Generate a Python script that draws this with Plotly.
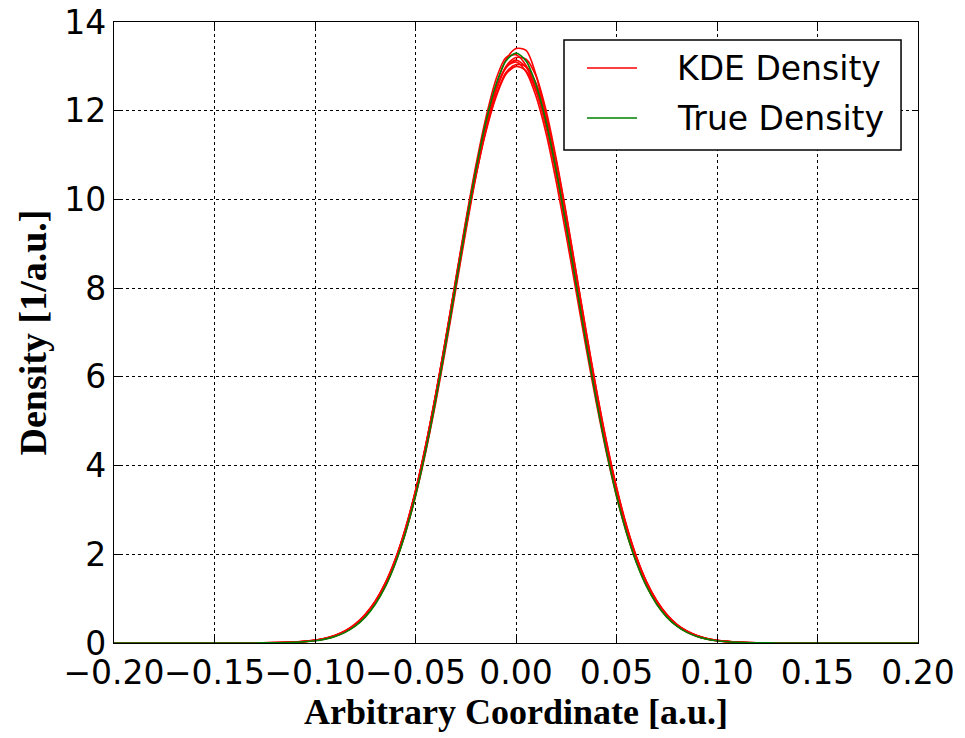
import plotly.graph_objects as go

# ---- data ----
x_grid = [-0.20, -0.15, -0.13, -0.12, -0.11, -0.10, -0.095, -0.09, -0.085, -0.08,
          -0.075, -0.07, -0.065, -0.06, -0.055, -0.05, -0.045, -0.04, -0.035, -0.03,
          -0.025, -0.02, -0.015, -0.01, -0.005, 0.0, 0.005, 0.01, 0.015, 0.02,
          0.025, 0.03, 0.035, 0.04, 0.045, 0.05, 0.055, 0.06, 0.065, 0.07,
          0.075, 0.08, 0.085, 0.09, 0.095, 0.10, 0.11, 0.12, 0.13, 0.15, 0.20]

true_density = [0, 0, 0.001, 0.005, 0.016, 0.051, 0.088, 0.148, 0.240, 0.380,
                0.584, 0.874, 1.27, 1.80, 2.48, 3.32, 4.32, 5.47, 6.73, 8.07,
                9.40, 10.65, 11.74, 12.58, 13.12, 13.30, 13.12, 12.58, 11.74, 10.65,
                9.40, 8.07, 6.73, 5.47, 4.32, 3.32, 2.48, 1.80, 1.27, 0.874,
                0.584, 0.380, 0.240, 0.148, 0.088, 0.051, 0.016, 0.005, 0.001, 0, 0]

kde_1 = [0, 0.001, 0.003, 0.007, 0.02, 0.058, 0.097, 0.16, 0.255, 0.40,
         0.61, 0.90, 1.30, 1.83, 2.50, 3.33, 4.32, 5.45, 6.70, 8.02,
         9.33, 10.58, 11.68, 12.55, 13.15, 13.40, 13.36, 12.80, 11.85, 10.70,
         9.42, 8.08, 6.74, 5.49, 4.36, 3.37, 2.53, 1.85, 1.31, 0.90,
         0.60, 0.39, 0.25, 0.155, 0.093, 0.054, 0.018, 0.006, 0.002, 0, 0]
kde_2 = [0, 0.001, 0.004, 0.009, 0.024, 0.066, 0.108, 0.175, 0.275, 0.43,
         0.65, 0.95, 1.36, 1.90, 2.59, 3.44, 4.44, 5.58, 6.82, 8.10,
         9.36, 10.52, 11.52, 12.30, 12.82, 13.00, 12.90, 12.44, 11.66, 10.62,
         9.42, 8.14, 6.86, 5.62, 4.48, 3.47, 2.62, 1.92, 1.37, 0.95,
         0.64, 0.42, 0.27, 0.17, 0.10, 0.062, 0.021, 0.007, 0.002, 0, 0]
kde_3 = [0, 0.001, 0.003, 0.008, 0.022, 0.062, 0.102, 0.168, 0.268, 0.42,
         0.64, 0.94, 1.35, 1.89, 2.58, 3.43, 4.44, 5.60, 6.86, 8.18,
         9.48, 10.68, 11.70, 12.48, 12.98, 13.10, 12.88, 12.32, 11.48, 10.40,
         9.18, 7.90, 6.62, 5.40, 4.29, 3.31, 2.48, 1.81, 1.28, 0.88,
         0.59, 0.385, 0.245, 0.152, 0.091, 0.053, 0.017, 0.005, 0.001, 0, 0]
kde_4 = [0, 0, 0.002, 0.006, 0.018, 0.055, 0.093, 0.155, 0.25, 0.39,
         0.595, 0.885, 1.28, 1.81, 2.48, 3.31, 4.29, 5.41, 6.65, 7.96,
         9.27, 10.50, 11.58, 12.44, 13.00, 13.20, 13.16, 12.78, 12.00, 10.92,
         9.68, 8.34, 7.00, 5.72, 4.55, 3.52, 2.65, 1.94, 1.38, 0.96,
         0.645, 0.42, 0.27, 0.168, 0.10, 0.06, 0.02, 0.006, 0.002, 0, 0]
kde_5 = [0, 0.001, 0.003, 0.008, 0.022, 0.063, 0.104, 0.17, 0.27, 0.42,
         0.635, 0.93, 1.34, 1.88, 2.57, 3.42, 4.43, 5.58, 6.84, 8.16,
         9.46, 10.66, 11.68, 12.46, 12.96, 13.14, 12.98, 12.50, 11.72, 10.70,
         9.50, 8.20, 6.88, 5.62, 4.46, 3.45, 2.59, 1.89, 1.34, 0.93,
         0.625, 0.41, 0.26, 0.162, 0.097, 0.057, 0.018, 0.005, 0.001, 0, 0]
kde_6 = [0, 0, 0.002, 0.006, 0.019, 0.056, 0.095, 0.158, 0.255, 0.40,
         0.61, 0.90, 1.30, 1.83, 2.51, 3.35, 4.35, 5.50, 6.76, 8.07,
         9.36, 10.55, 11.56, 12.34, 12.86, 13.04, 13.00, 12.62, 11.88, 10.86,
         9.64, 8.32, 6.98, 5.70, 4.53, 3.50, 2.63, 1.92, 1.36, 0.94,
         0.63, 0.41, 0.262, 0.163, 0.097, 0.057, 0.018, 0.005, 0.001, 0, 0]
kde_7 = [0, 0.001, 0.003, 0.007, 0.021, 0.06, 0.10, 0.165, 0.263, 0.41,
         0.62, 0.915, 1.32, 1.86, 2.55, 3.40, 4.42, 5.58, 6.86, 8.20,
         9.52, 10.76, 11.84, 12.70, 13.20, 13.26, 13.02, 12.46, 11.62, 10.56,
         9.34, 8.04, 6.74, 5.50, 4.37, 3.37, 2.52, 1.84, 1.30, 0.90,
         0.60, 0.39, 0.25, 0.155, 0.093, 0.054, 0.017, 0.005, 0.001, 0, 0]

kde_curves = [kde_1, kde_2, kde_3, kde_4, kde_5, kde_6, kde_7]

x_ticks = [-0.20, -0.15, -0.10, -0.05, 0.00, 0.05, 0.10, 0.15, 0.20]
y_ticks = [0, 2, 4, 6, 8, 10, 12, 14]
legend_labels = ["KDE Density", "True Density"]

RED = "#ff0000"
GREEN = "#008000"
TICK_FONT = dict(family="DejaVu Sans", size=33, color="black")
XTITLE_FONT = dict(family="Liberation Serif", size=36, color="black")
YTITLE_FONT = dict(family="Liberation Serif", size=38, color="black")

fig = go.Figure()
for k in kde_curves:
    fig.add_trace(go.Scatter(x=x_grid, y=k, mode="lines",
                             line=dict(color=RED, width=1.6, shape="spline", smoothing=0.8),
                             showlegend=False, hoverinfo="skip"))
fig.add_trace(go.Scatter(x=x_grid, y=true_density, mode="lines",
                         line=dict(color=GREEN, width=1.6, shape="spline", smoothing=0.8),
                         showlegend=False))

axis_common = dict(showline=True, linecolor="black", linewidth=1.3, mirror="ticks",
                   ticks="inside", ticklen=6, tickwidth=1, tickcolor="black",
                   showgrid=True, gridcolor="black", gridwidth=1, griddash="dot",
                   zeroline=False, tickfont=TICK_FONT, automargin=False, tickangle=0)

fig.update_xaxes(range=[-0.2, 0.2], tickvals=x_ticks, tickformat=".2f",
                 title=dict(text="<b>Arbitrary Coordinate [a.u.]</b>", font=XTITLE_FONT, standoff=8),
                 **axis_common)
fig.update_yaxes(range=[0, 14], tickvals=y_ticks,
                 title=dict(text="<b>Density [1/a.u.]</b>", font=YTITLE_FONT, standoff=5),
                 **axis_common)

# legend drawn as a matplotlib-style box
fig.add_shape(type="rect", xref="paper", yref="paper", x0=0.5597, x1=0.9789, y0=0.794, y1=0.971,
              line=dict(color="black", width=1.5), fillcolor="white", layer="above")
for yy, col, lab in [(0.9259, RED, legend_labels[0]), (0.8454, GREEN, legend_labels[1])]:
    fig.add_shape(type="line", xref="paper", yref="paper", x0=0.5883, x1=0.6505, y0=yy, y1=yy,
                  line=dict(color=col, width=1.6), layer="above")
    fig.add_annotation(xref="paper", yref="paper", x=0.6978, y=yy, text=lab, showarrow=False,
                       xanchor="left", yanchor="middle", font=TICK_FONT)

fig.update_layout(width=965, height=738, margin=dict(l=114, r=47, t=22, b=95),
                  plot_bgcolor="white", paper_bgcolor="white", showlegend=False)

fig.write_html("out.html")
